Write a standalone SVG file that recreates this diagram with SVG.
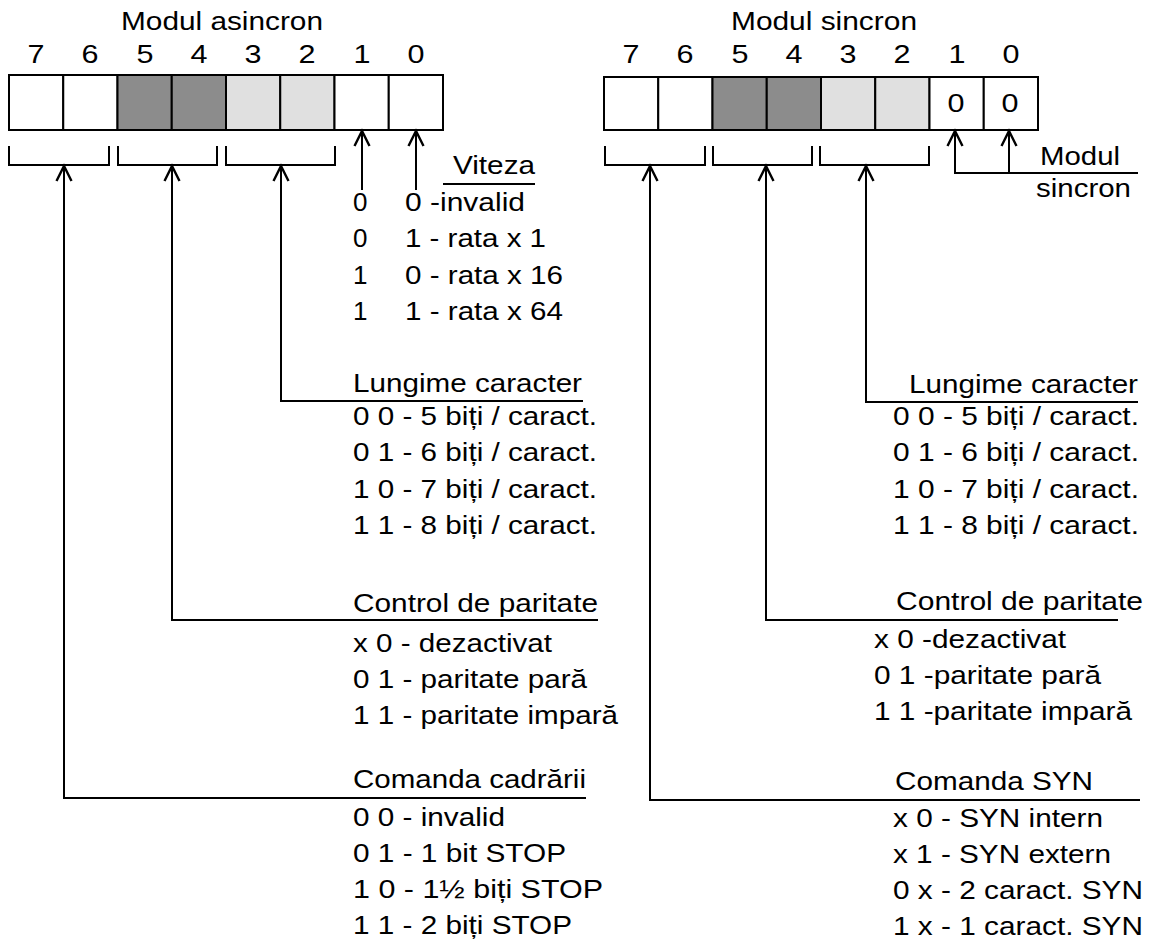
<svg xmlns="http://www.w3.org/2000/svg" width="1153" height="942" viewBox="0 0 1153 942">
<style>
.t{font-family:"Liberation Sans",Arial,sans-serif;font-size:26px;fill:#000}
.m{text-anchor:middle}
.c{stroke:#000;stroke-width:2}
.w{fill:#fff}.d{fill:#8c8c8c}.l{fill:#e0e0e0}
.ln{fill:none;stroke:#000;stroke-width:2}
.ar{fill:none;stroke:#000;stroke-width:2;marker-end:url(#ah)}
</style>
<defs>
<marker id="ah" markerUnits="userSpaceOnUse" markerWidth="22" markerHeight="22" refX="16" refY="9" orient="auto">
<path d="M1,1.5 L16,9 L1,16.5" fill="none" stroke="#000" stroke-width="2.4"/>
</marker>
</defs>
<rect width="1153" height="942" fill="#fff"/>

<g id="register-async">
<text class="t m" x="222" y="30" textLength="202" lengthAdjust="spacingAndGlyphs">Modul asincron</text>
<text class="t m" x="36" y="63" textLength="17" lengthAdjust="spacingAndGlyphs">7</text><text class="t m" x="90" y="63" textLength="17" lengthAdjust="spacingAndGlyphs">6</text><text class="t m" x="145" y="63" textLength="17" lengthAdjust="spacingAndGlyphs">5</text><text class="t m" x="199" y="63" textLength="17" lengthAdjust="spacingAndGlyphs">4</text><text class="t m" x="253" y="63" textLength="17" lengthAdjust="spacingAndGlyphs">3</text><text class="t m" x="307" y="63" textLength="17" lengthAdjust="spacingAndGlyphs">2</text><text class="t m" x="362" y="63" textLength="17" lengthAdjust="spacingAndGlyphs">1</text><text class="t m" x="416" y="63" textLength="17" lengthAdjust="spacingAndGlyphs">0</text>
<rect class="c w" x="9" y="75" width="54.25" height="55"/>
<rect class="c w" x="63.25" y="75" width="54.25" height="55"/>
<rect class="c d" x="117.5" y="75" width="54.25" height="55"/>
<rect class="c d" x="171.75" y="75" width="54.25" height="55"/>
<rect class="c l" x="226" y="75" width="54.25" height="55"/>
<rect class="c l" x="280.25" y="75" width="54.25" height="55"/>
<rect class="c w" x="334.5" y="75" width="54.25" height="55"/>
<rect class="c w" x="388.75" y="75" width="54.25" height="55"/>
<path class="ln" d="M9 146V165H109V146M118 146V165H217V146M226 146V165H335V146"/>
</g>

<g id="register-sync">
<text class="t m" x="824" y="30" textLength="186" lengthAdjust="spacingAndGlyphs">Modul sincron</text>
<text class="t m" x="631" y="63" textLength="17" lengthAdjust="spacingAndGlyphs">7</text><text class="t m" x="685" y="63" textLength="17" lengthAdjust="spacingAndGlyphs">6</text><text class="t m" x="740" y="63" textLength="17" lengthAdjust="spacingAndGlyphs">5</text><text class="t m" x="794" y="63" textLength="17" lengthAdjust="spacingAndGlyphs">4</text><text class="t m" x="848" y="63" textLength="17" lengthAdjust="spacingAndGlyphs">3</text><text class="t m" x="902" y="63" textLength="17" lengthAdjust="spacingAndGlyphs">2</text><text class="t m" x="957" y="63" textLength="17" lengthAdjust="spacingAndGlyphs">1</text><text class="t m" x="1011" y="63" textLength="17" lengthAdjust="spacingAndGlyphs">0</text>
<rect class="c w" x="604" y="77" width="54.25" height="53"/>
<rect class="c w" x="658.25" y="77" width="54.25" height="53"/>
<rect class="c d" x="712.5" y="77" width="54.25" height="53"/>
<rect class="c d" x="766.75" y="77" width="54.25" height="53"/>
<rect class="c l" x="821" y="77" width="54.25" height="53"/>
<rect class="c l" x="875.25" y="77" width="54.25" height="53"/>
<rect class="c w" x="929.5" y="77" width="54.25" height="53"/>
<rect class="c w" x="983.75" y="77" width="54.25" height="53"/>
<text class="t m" x="956" y="112" textLength="17" lengthAdjust="spacingAndGlyphs">0</text><text class="t m" x="1010" y="112" textLength="17" lengthAdjust="spacingAndGlyphs">0</text>
<path class="ln" d="M605 146V165H705V146M713 146V165H812V146M820 146V165H929V146"/>
</g>

<g id="connectors">
<path class="ar" d="M362 190V131"/>
<path class="ar" d="M416 190V131"/>
<path class="ln" d="M443 184H535"/>
<path class="ar" d="M583 401H281V166"/>
<path class="ar" d="M598 620H172V166"/>
<path class="ar" d="M586 798H64V166"/>
<path class="ar" d="M1138 173H955V131"/>
<path class="ar" d="M1009 173V131"/>
<path class="ar" d="M1138 402H866V166"/>
<path class="ar" d="M1118 620H766V166"/>
<path class="ar" d="M1140 800H650V166"/>
</g>

<g id="label-viteza">
<text class="t" x="453" y="174" textLength="82" lengthAdjust="spacingAndGlyphs">Viteza</text>
<text class="t" x="353" y="211">0</text><text class="t" x="405" y="211" textLength="120" lengthAdjust="spacingAndGlyphs">0 -invalid</text>
<text class="t" x="353" y="247">0</text><text class="t" x="405" y="247" textLength="141" lengthAdjust="spacingAndGlyphs">1 - rata x 1</text>
<text class="t" x="353" y="284">1</text><text class="t" x="405" y="284" textLength="158" lengthAdjust="spacingAndGlyphs">0 - rata x 16</text>
<text class="t" x="353" y="320">1</text><text class="t" x="405" y="320" textLength="158" lengthAdjust="spacingAndGlyphs">1 - rata x 64</text>
</g>

<g id="label-lungime-async">
<text class="t" x="353" y="392" textLength="229" lengthAdjust="spacingAndGlyphs">Lungime caracter</text>
<text class="t" x="353" y="425" textLength="244" lengthAdjust="spacingAndGlyphs">0 0 - 5 biți / caract.</text>
<text class="t" x="353" y="461" textLength="244" lengthAdjust="spacingAndGlyphs">0 1 - 6 biți / caract.</text>
<text class="t" x="353" y="498" textLength="244" lengthAdjust="spacingAndGlyphs">1 0 - 7 biți / caract.</text>
<text class="t" x="353" y="534" textLength="244" lengthAdjust="spacingAndGlyphs">1 1 - 8 biți / caract.</text>
</g>

<g id="label-paritate-async">
<text class="t" x="353" y="612" textLength="245" lengthAdjust="spacingAndGlyphs">Control de paritate</text>
<text class="t" x="353" y="652" textLength="199" lengthAdjust="spacingAndGlyphs">x 0 - dezactivat</text>
<text class="t" x="353" y="688" textLength="234" lengthAdjust="spacingAndGlyphs">0 1 - paritate pară</text>
<text class="t" x="353" y="724" textLength="265" lengthAdjust="spacingAndGlyphs">1 1 - paritate impară</text>
</g>

<g id="label-cadrare">
<text class="t" x="353" y="788" textLength="233" lengthAdjust="spacingAndGlyphs">Comanda cadrării</text>
<text class="t" x="353" y="826" textLength="152" lengthAdjust="spacingAndGlyphs">0 0 - invalid</text>
<text class="t" x="353" y="862" textLength="213" lengthAdjust="spacingAndGlyphs">0 1 - 1 bit STOP</text>
<text class="t" x="353" y="898" textLength="250" lengthAdjust="spacingAndGlyphs">1 0 - 1½  biți STOP</text>
<text class="t" x="353" y="934" textLength="219" lengthAdjust="spacingAndGlyphs">1 1 - 2 biți STOP</text>
</g>

<g id="label-modul-sincron">
<text class="t" x="1040" y="165" textLength="80" lengthAdjust="spacingAndGlyphs">Modul</text>
<text class="t" x="1036" y="197" textLength="95" lengthAdjust="spacingAndGlyphs">sincron</text>
</g>

<g id="label-lungime-sync">
<text class="t" x="909" y="393" textLength="229" lengthAdjust="spacingAndGlyphs">Lungime caracter</text>
<text class="t" x="893" y="425" textLength="246" lengthAdjust="spacingAndGlyphs">0 0 - 5 biți / caract.</text>
<text class="t" x="893" y="461" textLength="246" lengthAdjust="spacingAndGlyphs">0 1 - 6 biți / caract.</text>
<text class="t" x="893" y="498" textLength="246" lengthAdjust="spacingAndGlyphs">1 0 - 7 biți / caract.</text>
<text class="t" x="893" y="534" textLength="246" lengthAdjust="spacingAndGlyphs">1 1 - 8 biți / caract.</text>
</g>

<g id="label-paritate-sync">
<text class="t" x="896" y="610" textLength="247" lengthAdjust="spacingAndGlyphs">Control de paritate</text>
<text class="t" x="874" y="648" textLength="192" lengthAdjust="spacingAndGlyphs">x 0 -dezactivat</text>
<text class="t" x="874" y="684" textLength="227" lengthAdjust="spacingAndGlyphs">0 1 -paritate pară</text>
<text class="t" x="874" y="720" textLength="258" lengthAdjust="spacingAndGlyphs">1 1 -paritate impară</text>
</g>

<g id="label-syn">
<text class="t" x="895" y="790" textLength="198" lengthAdjust="spacingAndGlyphs">Comanda SYN</text>
<text class="t" x="893" y="827" textLength="210" lengthAdjust="spacingAndGlyphs">x 0 - SYN intern</text>
<text class="t" x="893" y="863" textLength="218" lengthAdjust="spacingAndGlyphs">x 1 - SYN extern</text>
<text class="t" x="893" y="899" textLength="250" lengthAdjust="spacingAndGlyphs">0 x - 2 caract. SYN</text>
<text class="t" x="893" y="935" textLength="250" lengthAdjust="spacingAndGlyphs">1 x - 1 caract. SYN</text>
</g>
</svg>
